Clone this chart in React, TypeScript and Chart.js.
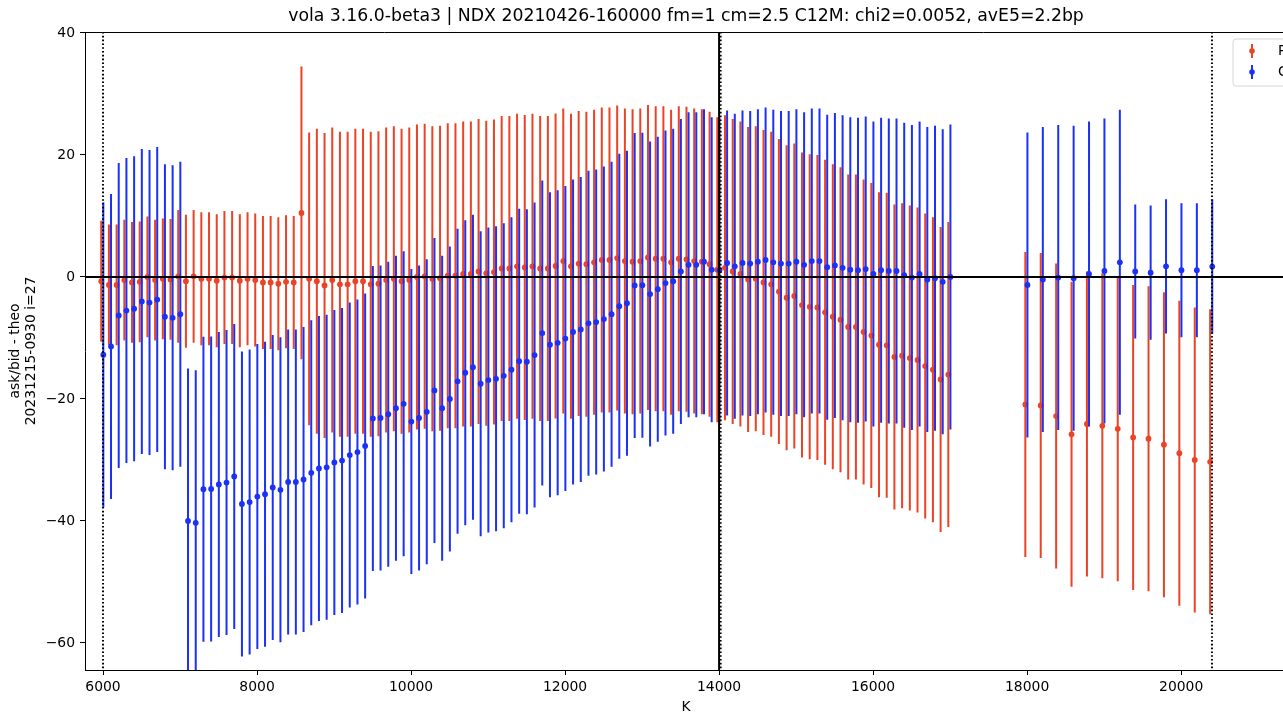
import React, { useEffect, useRef } from 'react';
import { Chart, registerables } from 'chart.js';

Chart.register(...registerables);

const STRIKES = [
  6000, 6100, 6200, 6300, 6400, 6500, 6600, 6700, 6800, 6900,
  7000, 7100, 7200, 7300, 7400, 7500, 7600, 7700, 7800, 7900,
  8000, 8100, 8200, 8300, 8400, 8500, 8600, 8700, 8800, 8900,
  9000, 9100, 9200, 9300, 9400, 9500, 9600, 9700, 9800, 9900,
  10000, 10100, 10200, 10300, 10400, 10500, 10600, 10700, 10800, 10900,
  11000, 11100, 11200, 11300, 11400, 11500, 11600, 11700, 11800, 11900,
  12000, 12100, 12200, 12300, 12400, 12500, 12600, 12700, 12800, 12900,
  13000, 13100, 13200, 13300, 13400, 13500, 13600, 13700, 13800, 13900,
  14000, 14100, 14200, 14300, 14400, 14500, 14600, 14700, 14800, 14900,
  15000, 15100, 15200, 15300, 15400, 15500, 15600, 15700, 15800, 15900,
  16000, 16100, 16200, 16300, 16400, 16500, 16600, 16700, 16800, 16900,
  17000,
  18000, 18200, 18400, 18600, 18800, 19000, 19200, 19400, 19600, 19800, 20000, 20200, 20400,
];

const PUT_MID = [
  -0.7, -1.3, -1.3, -0.5, -0.9, -0.8, 0.0, -0.5, -0.3, -0.4,
  0.1, -0.7, 0.1, -0.3, -0.3, -0.6, -0.1, -0.1, -0.6, -0.3,
  -0.5, -0.9, -0.9, -1.1, -0.8, -0.9, 10.5, -0.3, -0.7, -1.4,
  -0.5, -1.2, -1.2, -0.7, -0.7, -1.2, -1.1, -0.5, -0.3, -0.7,
  -0.5, 0.0, 0.1, -0.3, -0.2, 0.2, 0.2, 0.5, 0.5, 0.9,
  0.6, 0.8, 1.4, 1.4, 1.75, 1.55, 1.75, 1.4, 1.4, 1.8,
  2.6, 1.75, 2.2, 2.1, 2.4, 2.8, 2.8, 3.1, 2.6, 2.5,
  2.6, 3.2, 3.0, 3.0, 2.4, 3.0, 2.9, 2.6, 2.5, 2.1,
  1.2, 1.5, 0.9, 0.5, -0.4, -0.3, -0.9, -1.2, -2.4, -3.4,
  -3.1, -4.6, -4.9, -5.0, -5.8, -6.5, -7.0, -8.2, -8.2, -9.0,
  -9.6, -11.1, -11.2, -13.1, -12.9, -13.3, -13.6, -14.6, -15.2, -16.8,
  -16.0,
  -20.9, -21.05, -22.8, -25.8, -24.1, -24.4, -24.9, -26.3, -26.5, -27.5, -28.9, -30.0, -30.3,
];

const PUT_ERR = [
  9.9, 9.9, 9.9, 9.9, 9.9, 9.9, 9.9, 9.9, 9.9, 9.9,
  10.9, 10.9, 10.9, 10.9, 10.9, 10.9, 10.9, 10.9, 10.9, 10.9,
  10.9, 10.9, 10.9, 10.9, 10.9, 10.9, 24, 24, 25, 25,
  25, 25, 25, 25, 25, 25, 25, 25, 25, 25,
  25, 25, 25, 25, 25, 25, 25, 25, 25, 25,
  25, 25, 25, 25, 25, 25, 25, 25, 25, 25,
  25, 25, 25, 25, 25, 25, 25, 25, 25, 25,
  25, 25, 25, 25, 25, 25, 25, 25, 25, 25,
  25, 25, 25, 25, 25, 25, 25, 25, 25, 25,
  25, 25, 25, 25, 25, 25, 25, 25, 25, 25,
  25, 25, 25, 25, 25, 25, 25, 25, 25, 25,
  25,
  25, 25, 25, 25, 25, 25, 25, 25, 25, 25, 25, 25, 25,
];

const CALL_MID = [
  -12.75, -11.4, -6.3, -5.5, -5.2, -4.0, -4.2, -3.7, -6.5, -6.7,
  -6.1, -40.0, -40.3, -34.8, -34.75, -34.0, -33.7, -32.7, -37.2, -36.9,
  -36.0, -35.6, -34.5, -34.9, -33.6, -33.6, -33.2, -32.1, -31.4, -31.2,
  -30.4, -30.1, -29.2, -28.7, -27.7, -23.2, -23.1, -22.5, -21.5, -20.8,
  -23.7, -23.1, -22.1, -18.6, -21.5, -20.0, -17.1, -15.7, -14.8, -17.5,
  -16.9, -16.7, -16.2, -15.2, -13.8, -13.9, -12.8, -9.2, -11.1, -10.8,
  -10.1, -9.0, -8.6, -7.6, -7.4, -6.9, -6.1, -4.8, -4.3, -1.4,
  -1.35, -2.8, -2.0, -1.0, -0.7, 0.9, 2.0, 2.0, 2.5, 1.2,
  1.1, 2.3, 1.75, 2.3, 2.2, 2.5, 2.8, 2.4, 2.2, 2.2,
  2.5, 2.0, 2.6, 2.6, 1.6, 1.9, 1.5, 1.2, 1.1, 1.3,
  0.5, 1.1, 1.0, 1.0, 0.3, -0.1, 0.5, -0.4, -0.2, -0.8,
  0.0,
  -1.3, -0.4, -0.1, -0.2, 0.5, 1.0, 2.4, 0.9, 0.7, 1.75, 1.1, 1.1, 1.7,
];

const CALL_ERR = [
  25, 25, 25, 25, 25, 25, 25, 25, 25, 25,
  25, 25, 25, 25, 25, 25, 25, 25, 25, 25,
  25, 25, 25, 25, 25, 25, 25, 25, 25, 25,
  25, 25, 25, 25, 25, 25, 25, 25, 25, 25,
  25, 25, 25, 25, 25, 25, 25, 25, 25, 25,
  25, 25, 25, 25, 25, 25, 25, 25, 25, 25,
  25, 25, 25, 25, 25, 25, 25, 25, 25, 25,
  25, 25, 25, 25, 25, 25, 25, 25, 25, 25,
  25, 25, 25, 25, 25, 25, 25, 25, 25, 25,
  25, 25, 25, 25, 25, 25, 25, 25, 25, 25,
  25, 25, 25, 25, 25, 25, 25, 25, 25, 25,
  25,
  25, 25, 25, 25, 25, 25, 25, 11, 11, 11, 11, 11, 11,
];

const SERIES_LABELS = ['P', 'C'];
const X_TICKS = [6000, 8000, 10000, 12000, 14000, 16000, 18000, 20000];
const Y_TICKS = [-60, -40, -20, 0, 20, 40];
const TITLE = 'vola 3.16.0-beta3 | NDX 20210426-160000 fm=1 cm=2.5 C12M: chi2=0.0052, avE5=2.2bp';
const X_LABEL = 'K';
const Y_LABEL = ['ask/bid - theo', '20231215-0930 i=27'];
const SOLID_VLINES = [14000];
const DOTTED_VLINES = [6000, 14020, 20400];
const HLINES = [0];

const X_MIN = 5766;
const X_MAX = 21285;
const Y_MIN = -64.43;
const Y_MAX = 40.16;

const RED = 'rgb(234,67,37)';
const BLUE = 'rgb(27,49,247)';
const FONT = '"DejaVu Sans", sans-serif';
const W = 1283;
const H = 713;

const errorBarPlugin = {
  id: 'errorBars',
  beforeDatasetDraw(chart: any, args: any) {
    const ds = chart.data.datasets[args.index];
    const { ctx, chartArea: a } = chart;
    const x = chart.scales.x;
    const y = chart.scales.y;
    ctx.save();
    ctx.beginPath();
    ctx.rect(a.left, a.top, a.right - a.left, a.bottom - a.top);
    ctx.clip();
    ctx.translate(ds.shift, 0);
    ctx.strokeStyle = ds.backgroundColor;
    ctx.lineWidth = 2;
    ctx.beginPath();
    ds.data.forEach((p: any, i: number) => {
      const px = x.getPixelForValue(p.x);
      ctx.moveTo(px, y.getPixelForValue(p.y - ds.err[i]));
      ctx.lineTo(px, y.getPixelForValue(p.y + ds.err[i]));
    });
    ctx.stroke();
    ctx.restore();
    ctx.save();
    ctx.translate(ds.shift, 0);
  },
  afterDatasetDraw(chart: any) {
    chart.ctx.restore();
  },
};

const decorPlugin = {
  id: 'decor',
  afterDatasetsDraw(chart: any) {
    const { ctx, chartArea: a } = chart;
    const x = chart.scales.x;
    const y = chart.scales.y;
    ctx.save();
    ctx.beginPath();
    ctx.rect(a.left, a.top, W - a.left, a.bottom - a.top);
    ctx.clip();
    ctx.strokeStyle = '#000';
    ctx.lineWidth = 2;
    HLINES.forEach((v) => {
      const py = y.getPixelForValue(v);
      ctx.beginPath();
      ctx.moveTo(a.left, py);
      ctx.lineTo(W, py);
      ctx.stroke();
    });
    SOLID_VLINES.forEach((v) => {
      const px = x.getPixelForValue(v);
      ctx.beginPath();
      ctx.moveTo(px, a.top);
      ctx.lineTo(px, a.bottom);
      ctx.stroke();
    });
    ctx.setLineDash([1.6, 2.2]);
    ctx.lineWidth = 2;
    DOTTED_VLINES.forEach((v) => {
      const px = x.getPixelForValue(v);
      ctx.beginPath();
      ctx.moveTo(px, a.top);
      ctx.lineTo(px, a.bottom);
      ctx.stroke();
    });
    ctx.restore();
  },
  afterDraw(chart: any) {
    const { ctx, chartArea: a } = chart;
    ctx.save();
    ctx.strokeStyle = '#000';
    ctx.lineWidth = 1;
    ctx.beginPath();
    ctx.moveTo(a.left, a.top + 0.5);
    ctx.lineTo(W, a.top + 0.5);
    ctx.moveTo(a.right - 1, a.bottom + 0.5);
    ctx.lineTo(W, a.bottom + 0.5);
    ctx.stroke();
    ctx.fillStyle = '#000';
    ctx.textAlign = 'center';
    ctx.textBaseline = 'middle';
    ctx.font = `17.3px ${FONT}`;
    ctx.fillText(TITLE, 686, 17);
    ctx.font = `13.9px ${FONT}`;
    ctx.fillText(X_LABEL, 686, 707);
    ctx.save();
    ctx.translate(15, 351);
    ctx.rotate(-Math.PI / 2);
    ctx.fillText(Y_LABEL[0], 0, 0);
    ctx.restore();
    ctx.save();
    ctx.translate(31, 351);
    ctx.rotate(-Math.PI / 2);
    ctx.fillText(Y_LABEL[1], 0, 0);
    ctx.restore();
    const lx = 1233;
    const ly = 39;
    const lw = 120;
    const lh = 47;
    const r = 3;
    ctx.beginPath();
    ctx.moveTo(lx + r, ly);
    ctx.lineTo(lx + lw - r, ly);
    ctx.arcTo(lx + lw, ly, lx + lw, ly + r, r);
    ctx.lineTo(lx + lw, ly + lh - r);
    ctx.arcTo(lx + lw, ly + lh, lx + lw - r, ly + lh, r);
    ctx.lineTo(lx + r, ly + lh);
    ctx.arcTo(lx, ly + lh, lx, ly + lh - r, r);
    ctx.lineTo(lx, ly + r);
    ctx.arcTo(lx, ly, lx + r, ly, r);
    ctx.closePath();
    ctx.fillStyle = 'rgba(255,255,255,0.8)';
    ctx.fill();
    ctx.strokeStyle = 'rgba(204,204,204,0.8)';
    ctx.lineWidth = 1;
    ctx.stroke();
    const colors = [RED, BLUE];
    SERIES_LABELS.forEach((lab, i) => {
      const cy = 51 + i * 21;
      ctx.strokeStyle = colors[i];
      ctx.lineWidth = 2;
      ctx.beginPath();
      ctx.moveTo(1252, cy - 7);
      ctx.lineTo(1252, cy + 7);
      ctx.stroke();
      ctx.fillStyle = colors[i];
      ctx.beginPath();
      ctx.arc(1252, cy, 2.8, 0, Math.PI * 2);
      ctx.fill();
      ctx.fillStyle = '#000';
      ctx.textAlign = 'left';
      ctx.textBaseline = 'middle';
      ctx.font = `13.9px ${FONT}`;
      ctx.fillText(lab, 1278, cy);
    });
    ctx.restore();
  },
};

export default function App() {
  const ref = useRef<HTMLCanvasElement>(null);

  useEffect(() => {
    if (!ref.current) return;
    const mk = (mid: number[]) => STRIKES.map((k, i) => ({ x: k, y: mid[i] }));
    const chart = new Chart(ref.current, {
      type: 'scatter',
      data: {
        datasets: [
          {
            label: SERIES_LABELS[0],
            data: mk(PUT_MID),
            backgroundColor: RED,
            borderColor: RED,
            borderWidth: 0,
            pointRadius: 2.9,
            pointHoverRadius: 2.9,
            order: 2,
            err: PUT_ERR,
            shift: -1.8,
          } as any,
          {
            label: SERIES_LABELS[1],
            data: mk(CALL_MID),
            backgroundColor: BLUE,
            borderColor: BLUE,
            borderWidth: 0,
            pointRadius: 2.9,
            pointHoverRadius: 2.9,
            order: 1,
            err: CALL_ERR,
            shift: 0.3,
          } as any,
        ],
      },
      options: {
        responsive: false,
        animation: false,
        devicePixelRatio: 1,
        events: [],
        layout: { padding: { top: 32, left: 0, right: 0, bottom: 0 } },
        plugins: {
          legend: { display: false },
          title: { display: false },
          tooltip: { enabled: false },
        },
        scales: {
          x: {
            type: 'linear',
            min: X_MIN,
            max: X_MAX,
            grid: { display: true, drawOnChartArea: false, drawTicks: true, tickLength: 5, color: '#000', lineWidth: 1 },
            border: { display: true, color: '#000', width: 1 },
            ticks: {
              autoSkip: false,
              maxRotation: 0,
              padding: 4,
              color: '#000',
              font: { family: FONT, size: 13.9 },
              callback: (v: any) => String(v),
            },
            afterBuildTicks: (s: any) => {
              s.ticks = X_TICKS.map((v) => ({ value: v }));
            },
            afterFit: (s: any) => {
              s.height = 43;
            },
          },
          y: {
            type: 'linear',
            min: Y_MIN,
            max: Y_MAX,
            grid: { display: true, drawOnChartArea: false, drawTicks: true, tickLength: 5, color: '#000', lineWidth: 1 },
            border: { display: true, color: '#000', width: 1 },
            ticks: {
              autoSkip: false,
              padding: 5,
              color: '#000',
              font: { family: FONT, size: 13.9 },
              callback: (v: any) => String(v).replace('-', '\u2212'),
            },
            afterBuildTicks: (s: any) => {
              s.ticks = Y_TICKS.map((v) => ({ value: v }));
            },
            afterFit: (s: any) => {
              s.width = 85;
            },
          },
        },
      } as any,
      plugins: [errorBarPlugin, decorPlugin],
    });
    return () => chart.destroy();
  }, []);

  return (
    <div style={{ position: 'absolute', left: 0, top: 0, width: W, height: H, background: '#fff' }}>
      <canvas ref={ref} width={W} height={H} style={{ display: 'block' }} />
    </div>
  );
}
